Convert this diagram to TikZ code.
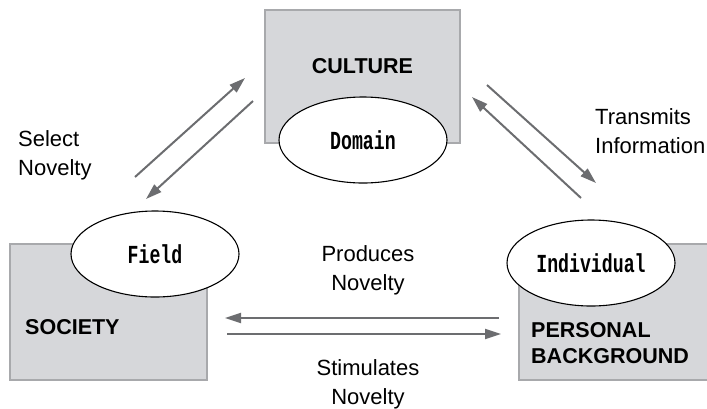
\documentclass[tikz,border=0pt]{standalone}
\usepackage{fontspec}
\setmainfont{Liberation Sans}
\newfontfamily\gothic[FakeStretch=0.7]{Liberation Mono}
\usetikzlibrary{arrows.meta,shapes.geometric}
\definecolor{boxfill}{RGB}{214,215,218}
\definecolor{boxline}{RGB}{168,169,172}
\definecolor{arrowgray}{RGB}{108,109,112}
\tikzset{
  area/.style={draw=boxline,fill=boxfill,line width=2.4pt,inner sep=0pt},
  sphere/.style={ellipse,draw=black,fill=white,line width=1.1pt,minimum width=168pt,minimum height=86pt,inner sep=0pt,
    font=\gothic\bfseries\fontsize{26}{26}\selectfont},
  areatext/.style={anchor=base west,align=left,inner sep=0pt,font=\bfseries\fontsize{21.5}{26}\selectfont},
  flowtext/.style={align=left,inner sep=0pt,font=\fontsize{22}{28.5}\selectfont},
  flow/.style={draw=arrowgray,line width=2pt,-{Triangle[length=16pt,width=10pt]}}
}
\begin{document}
\begin{tikzpicture}[x=1pt,y=-1pt]
\useasboundingbox (0,0) rectangle (707,408);

% boxes
\node[area,minimum width=195pt,minimum height=133pt] (culture) at (362.5,76.5) {};
\node[area,minimum width=197pt,minimum height=136pt] (society) at (108.5,312) {};
\node[area,minimum width=200pt,minimum height=136pt] (personal) at (619,312) {};

% box texts (base = last line)
\node[areatext,anchor=base] (culturetext) at (362.5,73) {CULTURE};
\node[areatext] (societytext) at (25,334) {SOCIETY};
\node[areatext] (personaltext) at (531,363) {PERSONAL\\BACKGROUND};

% ellipses
\node[sphere] (domain) at (363,140) {\raisebox{-2pt}{Domain}};
\node[sphere] (field) at (155,254) {\raisebox{-2pt}{Field}};
\node[sphere] (individual) at (591,263) {\raisebox{-2pt}{Individual}};

% arrow ends
\coordinate (a1) at (135,177); \coordinate (a2) at (245,78);
\coordinate (b1) at (253,101); \coordinate (b2) at (146,199);
\coordinate (c1) at (487,85);  \coordinate (c2) at (596,183);
\coordinate (d1) at (581,198); \coordinate (d2) at (472,97);
\coordinate (e1) at (499,318); \coordinate (e2) at (225,318);
\coordinate (f1) at (227,334); \coordinate (f2) at (501,334);

\draw[flow] (a1) -- (a2);
\draw[flow] (b1) -- (b2);
\draw[flow] (c1) -- (c2);
\draw[flow] (d1) -- (d2);
\draw[flow] (e1) -- (e2);
\draw[flow] (f1) -- (f2);

% labels
\node[flowtext,anchor=base west] (select) at (18,175) {Select\\Novelty};
\node[flowtext,anchor=base west] (transmits) at (595,153) {Transmits\\Information};
\node[flowtext,align=center,anchor=base] (produces) at (368,290) {Produces\\Novelty};
\node[flowtext,align=center,anchor=base] (stimulates) at (368,404) {Stimulates\\Novelty};
\end{tikzpicture}
\end{document}
